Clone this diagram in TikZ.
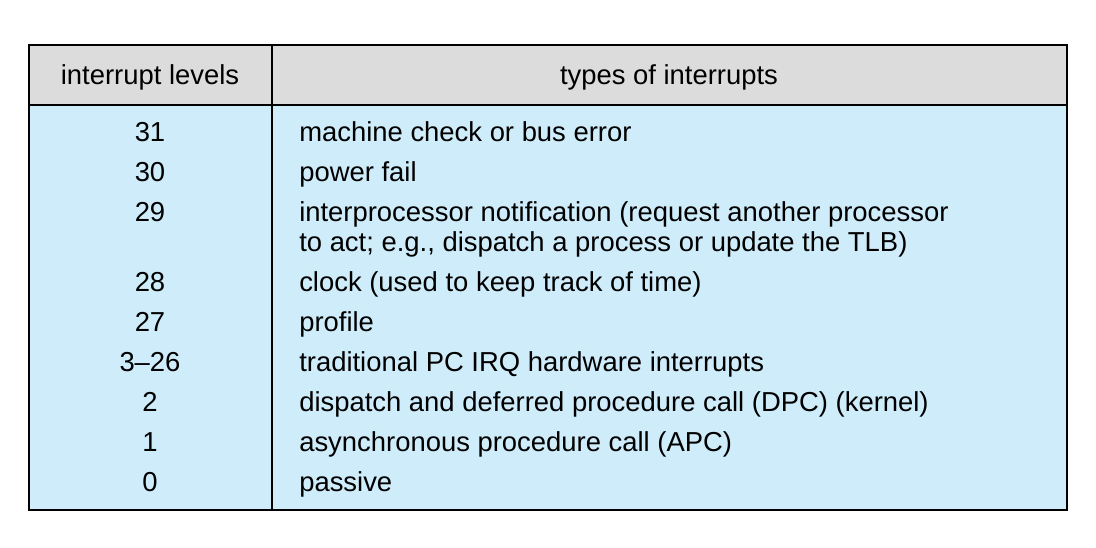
\documentclass[tikz,border=0pt]{standalone}
\usepackage{fontspec}
\setmainfont{Liberation Sans}
\definecolor{headgray}{RGB}{220,220,220}
\definecolor{bodyblue}{RGB}{206,236,249}
\tikzset{
  lvl/.style={anchor=base,inner sep=0pt,font=\fontsize{19.5}{21.3}\selectfont},
  typ/.style={anchor=base west,inner sep=0pt,align=left,font=\fontsize{19.5}{21.3}\selectfont}
}
\begin{document}
\begin{tikzpicture}[x=0.025cm,y=-0.025cm]
\useasboundingbox (0,0) rectangle (1096,547);
\fill[headgray] (29,45) rectangle (1067,105);
\fill[bodyblue] (29,105) rectangle (1067,510);
\draw[line width=0.8pt] (29,45) rectangle (1067,510);
\draw[line width=0.8pt] (29,105) -- (1067,105);
\draw[line width=0.8pt] (272,45) -- (272,510);
\node[lvl] (h1) at (150,84) {interrupt levels};
\node[lvl] (h2) at (669,84) {types of interrupts};
\foreach \n/\y/\l/\t in {
  a/141/31/machine check or bus error,
  b/181/30/power fail,
  d/291/28/clock (used to keep track of time),
  e/331/27/profile,
  f/371/3--26/traditional PC IRQ hardware interrupts,
  g/411/2/dispatch and deferred procedure call (DPC) (kernel),
  h/451/1/asynchronous procedure call (APC),
  i/491/0/passive}{
  \node[lvl] (l\n) at (150,\y) {\l};
  \node[typ] (t\n) at (299,\y) {\t};
}
\node[lvl] (lc) at (150,221) {29};
\node[typ] (tc) at (299,251) {interprocessor notification (request another processor\\to act; e.g., dispatch a process or update the TLB)};
\end{tikzpicture}
\end{document}
